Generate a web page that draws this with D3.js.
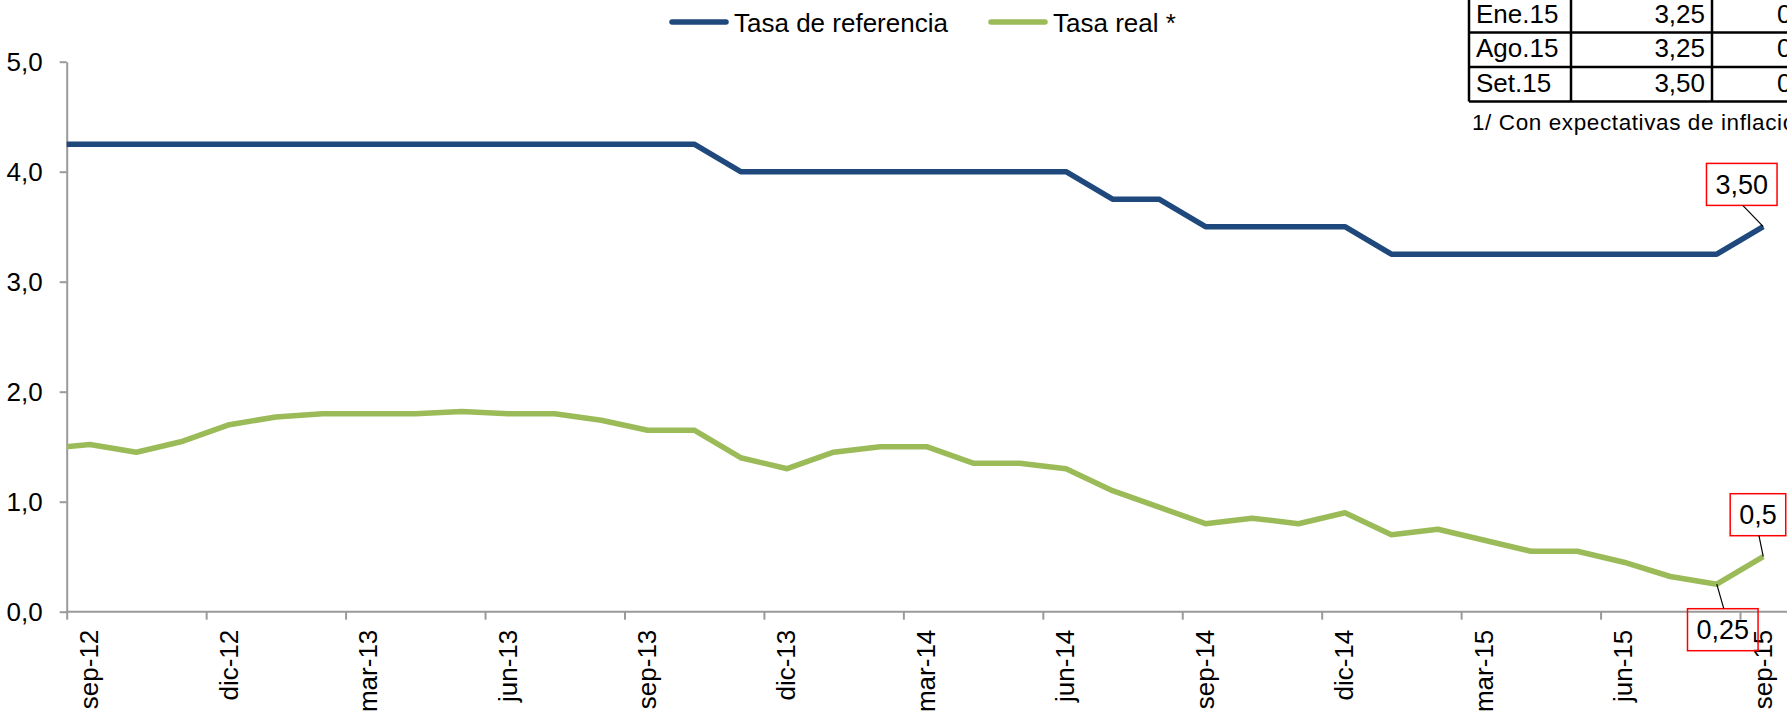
<!DOCTYPE html>
<html>
<head>
<meta charset="utf-8">
<script src="https://cdn.jsdelivr.net/npm/d3@7"></script>
<style>
  body { margin: 0; background: #fff; }
  svg { display: block; font-family: 'Liberation Sans', Arial, sans-serif; }
</style>
</head>
<body>
<div id="chart"></div>
<script>
// Data (monthly, ago-12 sits just left of the axis and is clipped like in the original)
const months = [
  'ago-12', 'sep-12', 'oct-12', 'nov-12', 'dic-12',
  'ene-13', 'feb-13', 'mar-13', 'abr-13', 'may-13', 'jun-13', 'jul-13', 'ago-13', 'sep-13', 'oct-13', 'nov-13', 'dic-13',
  'ene-14', 'feb-14', 'mar-14', 'abr-14', 'may-14', 'jun-14', 'jul-14', 'ago-14', 'sep-14', 'oct-14', 'nov-14', 'dic-14',
  'ene-15', 'feb-15', 'mar-15', 'abr-15', 'may-15', 'jun-15', 'jul-15', 'ago-15', 'sep-15'
]
const tasaReferencia = [
  4.25, 4.25, 4.25, 4.25, 4.25,
  4.25, 4.25, 4.25, 4.25, 4.25, 4.25, 4.25, 4.25, 4.25, 4.25, 4.00, 4.00,
  4.00, 4.00, 4.00, 4.00, 4.00, 4.00, 3.75, 3.75, 3.50, 3.50, 3.50, 3.50,
  3.25, 3.25, 3.25, 3.25, 3.25, 3.25, 3.25, 3.25, 3.50
]
const tasaReal = [
  1.48, 1.52, 1.45, 1.55, 1.70,
  1.77, 1.80, 1.80, 1.80, 1.82, 1.80, 1.80, 1.74, 1.65, 1.65, 1.40, 1.30,
  1.45, 1.50, 1.50, 1.35, 1.35, 1.30, 1.10, 0.95, 0.80, 0.85, 0.80, 0.90,
  0.70, 0.75, 0.65, 0.55, 0.55, 0.45, 0.32, 0.25, 0.50
]
const yTicks = [0, 1, 2, 3, 4, 5]
const labelMonths = ['sep-12', 'dic-12', 'mar-13', 'jun-13', 'sep-13', 'dic-13', 'mar-14', 'jun-14', 'sep-14', 'dic-14', 'mar-15', 'jun-15', 'sep-15']
const seriesNames = ['Tasa de referencia', 'Tasa real *']

// Small table in the corner
const tablaFechas = ['Ene.15', 'Ago.15', 'Set.15']
const tablaReferencia = ['3,25', '3,25', '3,50']
const tablaReal = ['0,70', '0,25', '0,50']
const nota = '1/ Con expectativas de inflación.'

// Size and colours
const w = 1787
const h = 714
const plotLeft = 66.7
const plotRight = 1786.5
const plotTop = 61.7
const plotBottom = 611.7
const blue = '#1F497D'
const green = '#9BBB59'
const axisColor = '#9a9a9a'

const svg = d3.select('#chart').append('svg')
  .attr('width', w)
  .attr('height', h)

// Scales: index based, each month is one category, ticks on category edges
const xScale = d3.scaleLinear()
  .domain([0.5, months.length - 0.5])
  .range([plotLeft, plotRight])
const yScale = d3.scaleLinear()
  .domain([0, 5])
  .range([plotBottom, plotTop])

const labelIdx = labelMonths.map(m => months.indexOf(m))
const fmt = v => d3.format('.1f')(v).replace('.', ',')

// y axis
const yAxis = svg.append('g')
  .attr('transform', `translate(${plotLeft}, 0)`)
  .call(d3.axisLeft(yScale).tickValues(yTicks).tickSize(7).tickSizeOuter(0).tickPadding(17).tickFormat(fmt))
yAxis.select('.domain').attr('stroke', axisColor).attr('stroke-width', 2)
yAxis.selectAll('.tick line').attr('stroke', axisColor).attr('stroke-width', 2)
yAxis.selectAll('text').attr('font-size', 26).attr('fill', '#000').attr('font-family', null)

// x axis: tick marks at category edges
const xTicks = svg.append('g')
  .attr('transform', `translate(0, ${plotBottom})`)
  .call(d3.axisBottom(xScale).tickValues(labelIdx.map(i => i - 0.5)).tickSize(8).tickSizeOuter(0).tickFormat(''))
xTicks.select('.domain').attr('stroke', axisColor).attr('stroke-width', 2)
  .attr('d', `M${plotLeft},0H${w}`)
xTicks.selectAll('.tick line').attr('stroke', axisColor).attr('stroke-width', 2)

// x axis: labels in the middle of the category, rotated
const xLabels = svg.append('g')
  .attr('transform', `translate(0, ${plotBottom})`)
  .call(d3.axisBottom(xScale).tickValues(labelIdx).tickSize(0).tickFormat(i => months[i]))
xLabels.select('.domain').remove()
xLabels.selectAll('text')
  .attr('font-size', 26)
  .attr('font-family', null)
  .attr('fill', '#000')
  .attr('transform', 'rotate(-90)')
  .attr('x', -18)
  .attr('y', 0)
  .attr('dy', '0.3em')
  .style('text-anchor', 'end')

// Clip lines at the y axis
svg.append('clipPath')
  .attr('id', 'plot')
  .append('rect')
  .attr('x', plotLeft)
  .attr('y', 0)
  .attr('width', w - plotLeft)
  .attr('height', h)

const line = d3.line()
  .x((_, i) => xScale(i))
  .y(d => yScale(d))

const plot = svg.append('g').attr('clip-path', 'url(#plot)')

plot.append('path')
  .datum(tasaReferencia)
  .attr('fill', 'none')
  .attr('stroke', blue)
  .attr('stroke-width', 5.5)
  .attr('stroke-linejoin', 'round')
  .attr('d', line)

plot.append('path')
  .datum(tasaReal)
  .attr('fill', 'none')
  .attr('stroke', green)
  .attr('stroke-width', 5.5)
  .attr('stroke-linejoin', 'round')
  .attr('d', line)

// Legend
const legend = [
  { name: seriesNames[0], color: blue, x: 672 },
  { name: seriesNames[1], color: green, x: 991 }
]
const lg = svg.append('g').selectAll('g')
  .data(legend)
  .enter()
  .append('g')
  .attr('transform', d => `translate(${d.x}, 22)`)
lg.append('line')
  .attr('x1', 0)
  .attr('x2', 54)
  .attr('stroke', d => d.color)
  .attr('stroke-width', 5.5)
  .attr('stroke-linecap', 'round')
lg.append('text')
  .attr('x', 62)
  .attr('y', 9.5)
  .attr('font-size', 26)
  .text(d => d.name)

// Callouts with the last values and the minimum
const callouts = [
  { data: tasaReferencia, idx: 37, text: '3,50', dx: -21.5, dy: -42.3 },
  { data: tasaReal, idx: 37, text: '0,5', dx: -5.3, dy: -42 },
  { data: tasaReal, idx: 36, text: '0,25', dx: 6, dy: 45.5 }
]
const boxH = 42
callouts.forEach(c => {
  const px = xScale(c.idx)
  const py = yScale(c.data[c.idx])
  const cx = px + c.dx
  const cy = py + c.dy
  const g = svg.append('g')
  const t = g.append('text')
    .attr('x', cx)
    .attr('y', cy + 9.7)
    .attr('text-anchor', 'middle')
    .attr('font-size', 27)
    .text(c.text)
  const bw = t.node().getComputedTextLength() + 18
  g.insert('rect', 'text')
    .attr('x', cx - bw / 2)
    .attr('y', cy - boxH / 2)
    .attr('width', bw)
    .attr('height', boxH)
    .attr('fill', 'none')
    .attr('stroke', '#ff0000')
    .attr('stroke-width', 1.5)
  const edgeY = c.dy < 0 ? cy + boxH / 2 : cy - boxH / 2
  g.append('line')
    .attr('x1', cx + 1)
    .attr('y1', edgeY)
    .attr('x2', px)
    .attr('y2', py)
    .attr('stroke', '#000')
    .attr('stroke-width', 1.2)
})

// Table (upper rows fall outside the picture)
const colX = [1469, 1571, 1712, 1853]
const rowY = [-2, 32.5, 67, 101.5]
const table = svg.append('g')
rowY.forEach(y => {
  table.append('line')
    .attr('x1', colX[0]).attr('x2', w)
    .attr('y1', y).attr('y2', y)
    .attr('stroke', '#000').attr('stroke-width', 2.5)
})
colX.forEach(x => {
  table.append('line')
    .attr('x1', x).attr('x2', x)
    .attr('y1', rowY[0]).attr('y2', rowY[rowY.length - 1])
    .attr('stroke', '#000').attr('stroke-width', 2.5)
})
tablaFechas.forEach((f, i) => {
  const base = rowY[i] + 24.7
  table.append('text').attr('x', 1476).attr('y', base).attr('font-size', 26).text(f)
  table.append('text').attr('x', 1705).attr('y', base).attr('font-size', 26)
    .attr('text-anchor', 'end').text(tablaReferencia[i])
  table.append('text').attr('x', 1777).attr('y', base).attr('font-size', 26).text(tablaReal[i])
})
table.append('text')
  .attr('x', 1472)
  .attr('y', 130)
  .attr('font-size', 22.5)
  .attr('letter-spacing', 0.6)
  .text(nota)
</script>
</body>
</html>
